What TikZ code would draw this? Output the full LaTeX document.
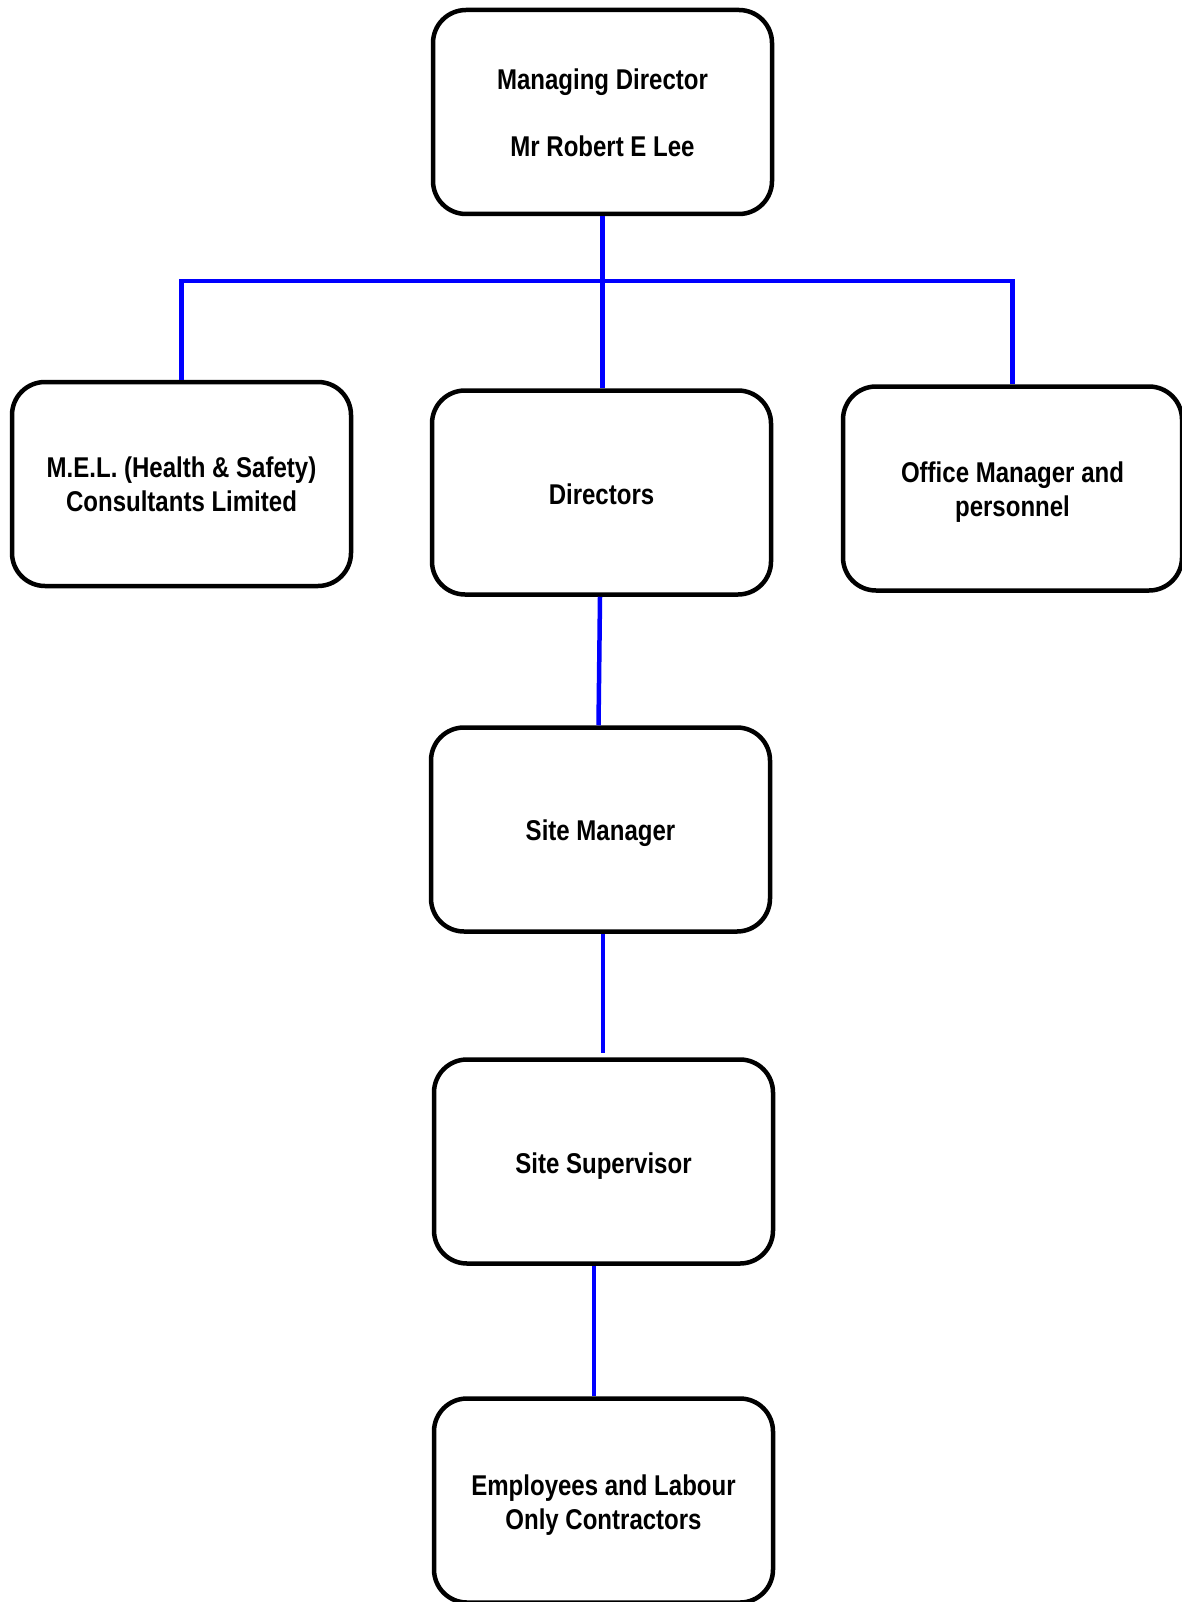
\documentclass[tikz,border=0pt]{standalone}
\usepackage{fontspec}
\newfontfamily\lab{Liberation Sans}[FakeStretch=0.84]
\definecolor{conblue}{RGB}{0,0,255}
\begin{document}
\begin{tikzpicture}[x=1pt,y=-1pt,
  box/.style={draw=black, line width=4.5pt, rounded corners=33pt, fill=white,
    minimum width=339pt, minimum height=204pt, inner sep=0pt},
  txt/.style={inner sep=0pt, align=center,
    font=\lab\bfseries\fontsize{28.6}{34}\selectfont},
  con/.style={draw=conblue, line width=4.5pt, line join=miter}]
\useasboundingbox (0,0) rectangle (1182,1602);
\node[box] (md) at (602.5,112) {};
\node[box] (mel) at (181.5,484) {};
\node[box] (dir) at (601.5,492.5) {};
\node[box] (office) at (1012.5,488.5) {};
\node[box] (sm) at (600.5,829.5) {};
\node[box] (ss) at (603.5,1161.5) {};
\node[box] (emp) at (603.5,1500.5) {};
\node[txt] (mdt) at ([yshift=-1pt]md.center) {Managing Director\\[33pt]Mr Robert E Lee};
\node[txt] (melt) at ([yshift=0pt]mel.center) {M.E.L. (Health \& Safety)\\Consultants Limited};
\node[txt] (dirt) at ([yshift=-2pt]dir.center) {Directors};
\node[txt] (officet) at ([yshift=-4pt]office.center) {Office Manager and\\personnel};
\node[txt] (smt) at ([yshift=-4pt]sm.center) {Site Manager};
\node[txt] (sst) at ([yshift=-5pt]ss.center) {Site Supervisor};
\node[txt] (empt) at ([yshift=-5pt]emp.center) {Employees and Labour\\Only Contractors};
\coordinate (bus) at (602,281);
\coordinate (ssin) at (603,1053);
\draw[con] (md.south) -- (md.south |- dir.north);
\draw[con] (mel.north) -- (mel.north |- bus) -- (office.north |- bus) -- (office.north);
\draw[con] ([xshift=-1.5pt]dir.south) -- ([xshift=-2pt]sm.north);
\draw[con] (ssin |- sm.south) -- (ssin);
\draw[con] ([xshift=-9.5pt]ss.south) -- ([xshift=-9.5pt]ss.south |- emp.north);
\end{tikzpicture}
\end{document}
